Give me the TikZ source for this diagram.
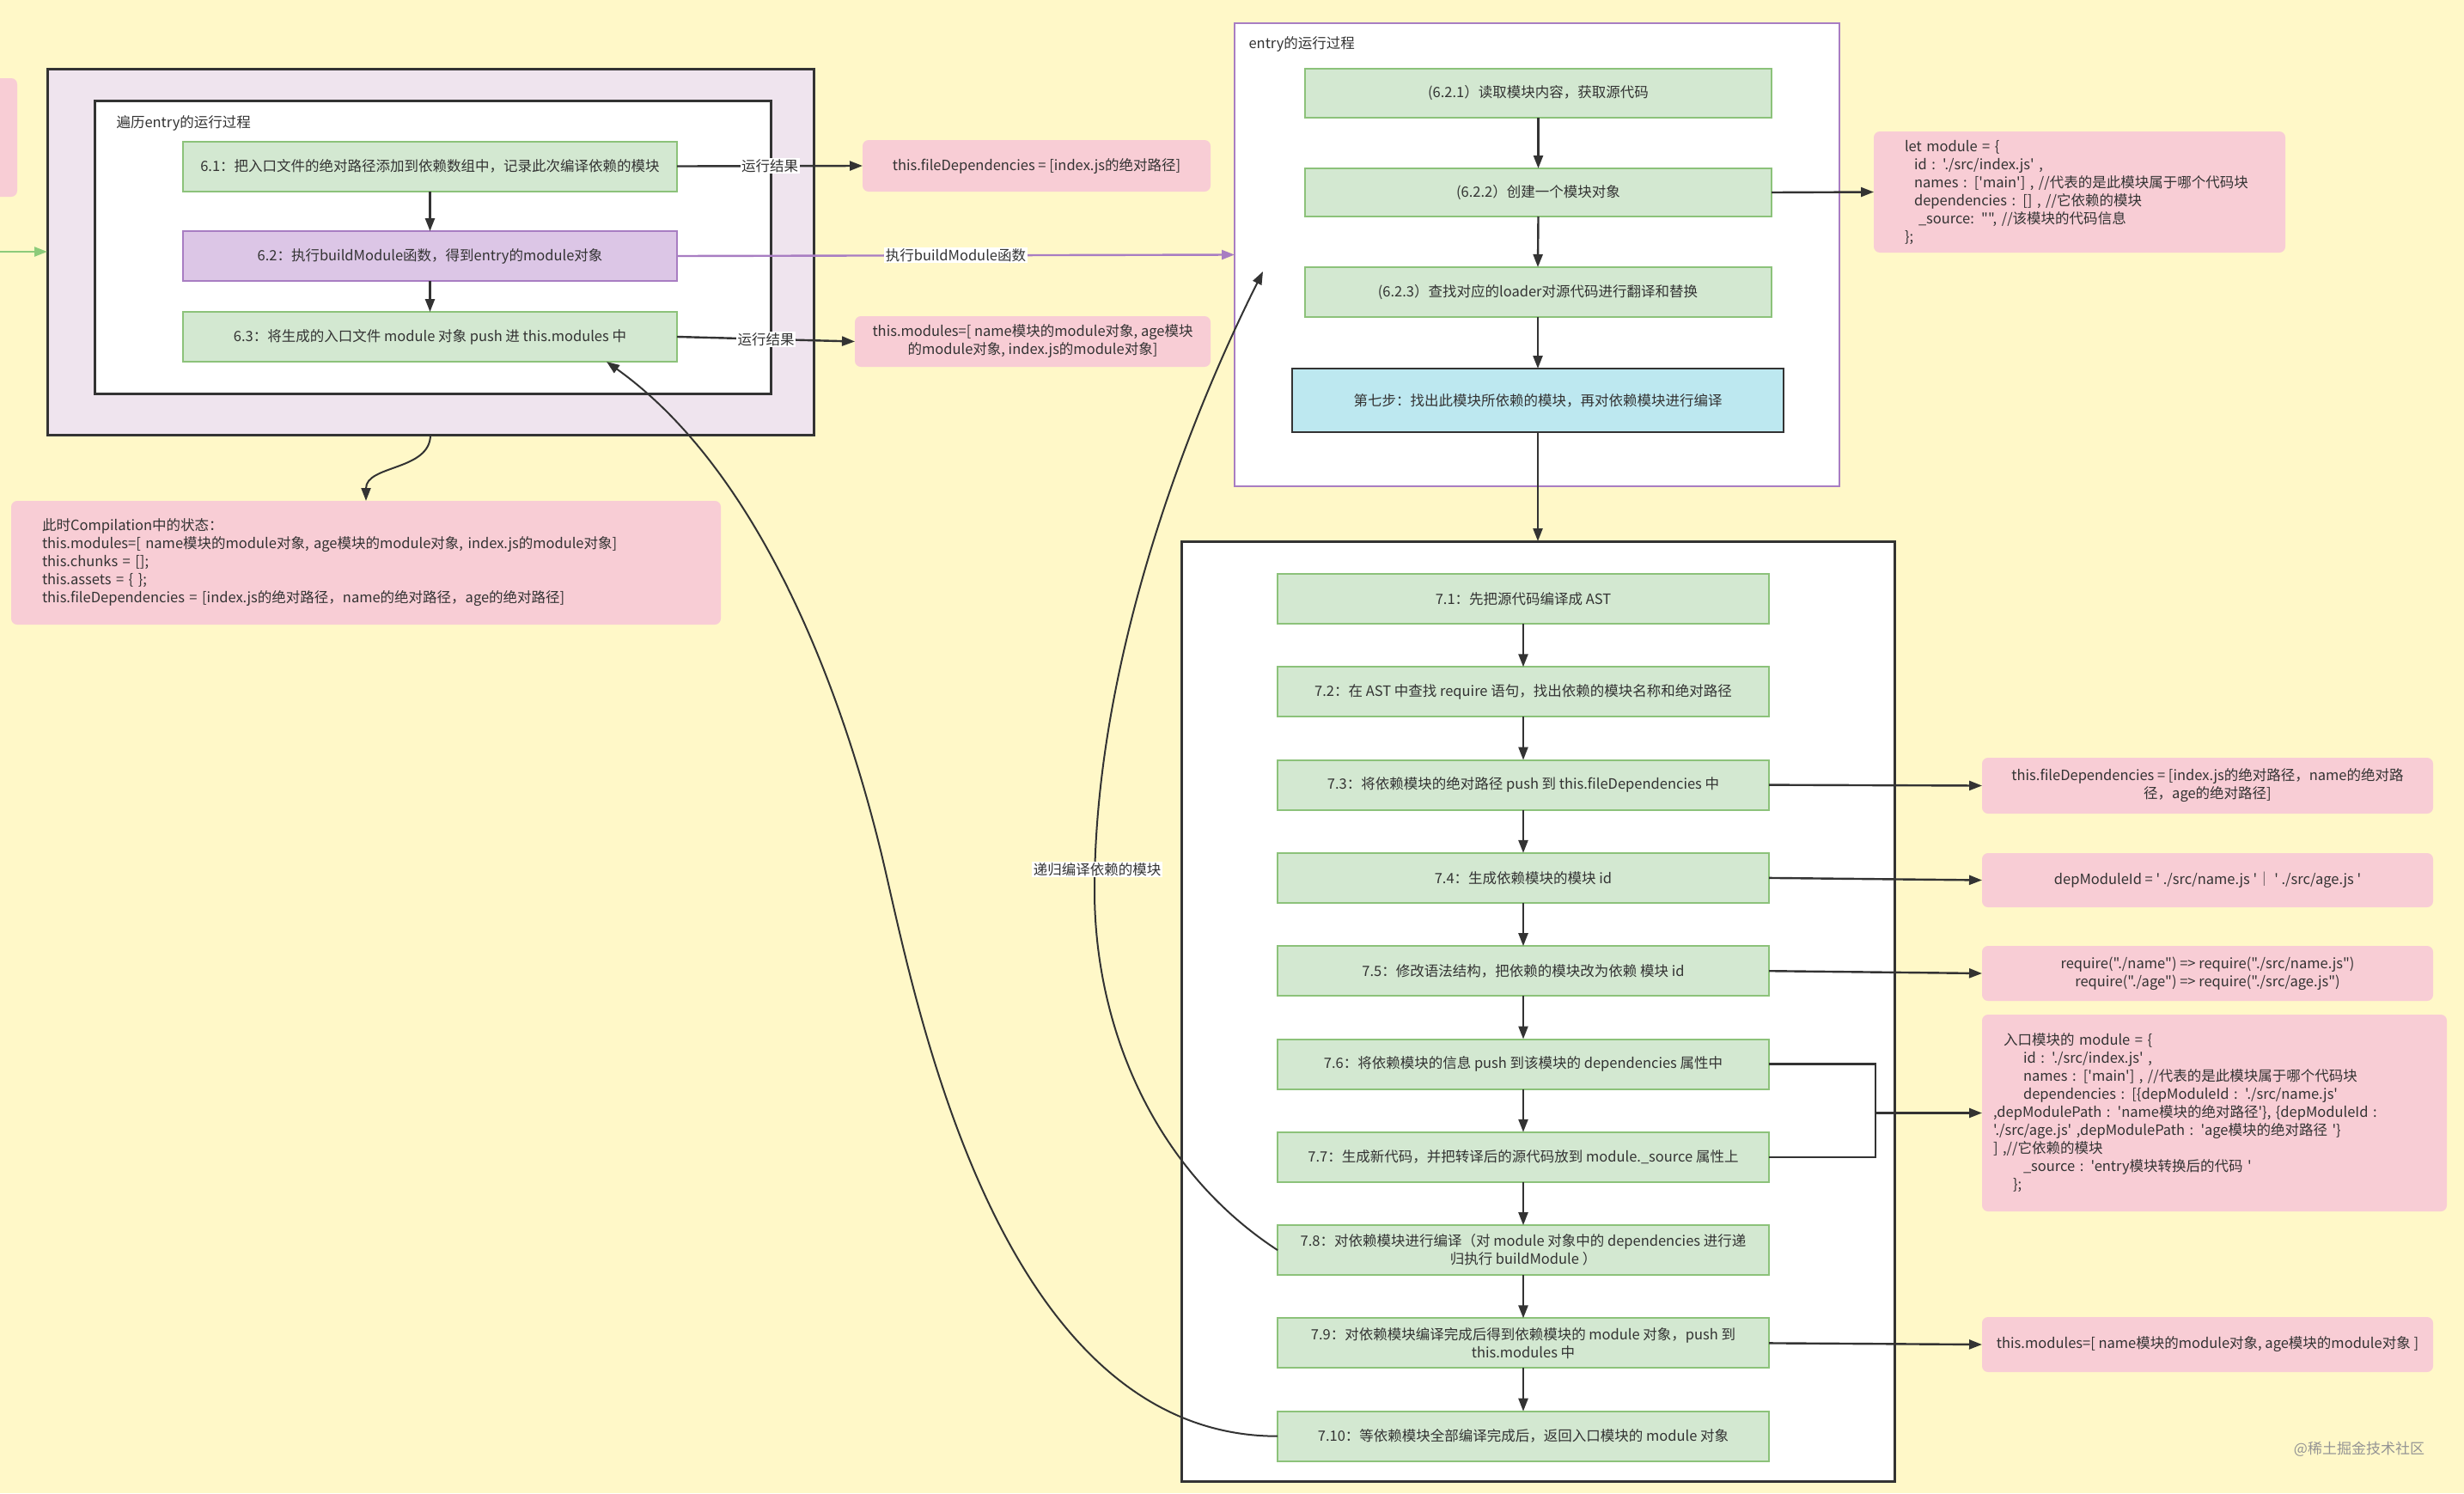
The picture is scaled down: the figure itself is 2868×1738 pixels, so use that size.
\documentclass[tikz,border=0pt]{standalone}
\usepackage{fontspec}
\setmainfont{Noto Sans CJK SC}[Ligatures=TeXOff]
\usetikzlibrary{arrows.meta,calc}
\definecolor{bg}{HTML}{FFF8C8}
\definecolor{gfill}{HTML}{D3E8D1}
\definecolor{gline}{HTML}{8CC27A}
\definecolor{pfill}{HTML}{DCC6E6}
\definecolor{pline}{HTML}{A87DC2}
\definecolor{pinkf}{HTML}{F8CDD5}
\definecolor{lav}{HTML}{EFE4EE}
\definecolor{cyanf}{HTML}{BDE8F0}
\definecolor{ink}{HTML}{333333}
\definecolor{garrow}{HTML}{8CCB7A}
\begin{document}
\begin{tikzpicture}[x=1pt,y=-1pt,
  txt/.style={font=\fontsize{16.5}{21}\selectfont, text=ink},
  gbox/.style={txt, draw=gline, fill=gfill, line width=2pt, inner sep=0pt, outer sep=0pt, align=center, minimum height=58pt},
  pbox/.style={txt, fill=pinkf, rounded corners=7pt, inner sep=0pt, outer sep=0pt, align=center},
  frame/.style={draw=ink, line width=3pt, inner sep=0pt, outer sep=0pt},
  arr/.style={draw=ink, line width=2.4pt, -{Triangle[length=15pt,width=11pt]}},
  carr/.style={draw=ink, line width=2pt, -{Triangle[length=15pt,width=11pt]}},
  plain/.style={draw=ink, line width=2.4pt},
  lbl/.style={txt, fill=white, inner sep=1.5pt}
]
\fill[bg] (0,0) rectangle (2868,1738);
\useasboundingbox (0,0) rectangle (2868,1738);

% partial pink box at left edge
\fill[pinkf, rounded corners=7pt] (-20,91) rectangle (20,229);

% ---- left group ----
\node[frame, fill=lav, minimum width=892pt, minimum height=426pt] (outer) at (501,293) {};
\node[frame, fill=white, minimum width=787pt, minimum height=341pt] (inner) at (503.5,287.5) {};
\node[txt, anchor=west] (t1) at (132,143) {遍历entry的运行过程};
\node[gbox, minimum width=575pt] (b61) at (500.5,193.5) {6.1：把入口文件的绝对路径添加到依赖数组中，记录此次编译依赖的模块};
\node[gbox, draw=pline, fill=pfill, minimum width=575pt] (b62) at (500.5,298) {6.2：执行buildModule函数，得到entry的module对象};
\node[gbox, minimum width=575pt] (b63) at (500.5,392) {6.3：将生成的入口文件 module 对象 push 进 this.modules 中};

\node[pbox, minimum width=405pt, minimum height=60pt] (p1) at (1206.5,193) {this.fileDependencies = [index.js的绝对路径]};
\node[pbox, minimum width=414pt, minimum height=59pt] (p2) at (1202,397.5) {this.modules=[ name模块的module对象, age模块\\的module对象, index.js的module对象]};

\node[pbox, minimum width=826pt, minimum height=144pt, text width=754pt, align=left] (state) at (426,655) {此时Compilation中的状态：\\
this.modules=[ name模块的module对象, age模块的module对象, index.js的module对象]\\
this.chunks = [];\\
this.assets = \{ \};\\
this.fileDependencies = [index.js的绝对路径，name的绝对路径，age的绝对路径]};

% ---- entry group ----
\node[draw=pline, line width=2.6pt, fill=white, inner sep=0pt, outer sep=0pt, minimum width=704pt, minimum height=539pt] (entry) at (1789,296.5) {};
\node[txt, anchor=west] (t2) at (1450,51) {entry的运行过程};
\node[gbox, minimum width=543pt, minimum height=57pt] (c621) at (1790.5,108.5) {(6.2.1）读取模块内容，获取源代码};
\node[gbox, minimum width=543pt, minimum height=56pt] (c622) at (1790.5,224) {(6.2.2）创建一个模块对象};
\node[gbox, minimum width=543pt, minimum height=58pt] (c623) at (1790,340) {(6.2.3）查找对应的loader对源代码进行翻译和替换};
\node[gbox, draw=ink, line width=2.6pt, fill=cyanf, minimum width=572pt, minimum height=74pt] (step7) at (1790,466) {第七步：找出此模块所依赖的模块，再对依赖模块进行编译};

\node[pbox, minimum width=479pt, minimum height=141pt, text width=407pt, align=left] (letmod) at (2420.5,223.5) {let module = \{\\
\hspace*{11pt}id : './src/index.js' ,\\
\hspace*{11pt}names : ['main'] , //代表的是此模块属于哪个代码块\\
\hspace*{11pt}dependencies : [] , //它依赖的模块\\
\hspace*{16pt}\_source: "", //该模块的代码信息\\
\};};

% ---- step 7 container ----
\node[frame, fill=white, minimum width=830pt, minimum height=1094pt] (cont) at (1790,1177) {};
\node[gbox, minimum width=572pt] (b71) at (1773,697) {7.1：先把源代码编译成 AST};
\node[gbox, minimum width=572pt] (b72) at (1773,805.3) {7.2：在 AST 中查找 require 语句，找出依赖的模块名称和绝对路径};
\node[gbox, minimum width=572pt] (b73) at (1773,913.6) {7.3：将依赖模块的绝对路径 push 到 this.fileDependencies 中};
\node[gbox, minimum width=572pt] (b74) at (1773,1021.9) {7.4：生成依赖模块的模块 id};
\node[gbox, minimum width=572pt] (b75) at (1773,1130.2) {7.5：修改语法结构，把依赖的模块改为依赖 模块 id};
\node[gbox, minimum width=572pt] (b76) at (1773,1238.5) {7.6：将依赖模块的信息 push 到该模块的 dependencies 属性中};
\node[gbox, minimum width=572pt] (b77) at (1773,1346.8) {7.7：生成新代码，并把转译后的源代码放到 module.\_source 属性上};
\node[gbox, minimum width=572pt] (b78) at (1773,1455.1) {7.8：对依赖模块进行编译（对 module 对象中的 dependencies 进行递\\归执行 buildModule ）};
\node[gbox, minimum width=572pt] (b79) at (1773,1563.4) {7.9：对依赖模块编译完成后得到依赖模块的 module 对象，push 到\\this.modules 中};
\node[gbox, minimum width=572pt] (b710) at (1773,1671.7) {7.10：等依赖模块全部编译完成后，返回入口模块的 module 对象};

\node[pbox, minimum width=525pt, minimum height=65pt] (p73) at (2569.5,914.5) {this.fileDependencies = [index.js的绝对路径，name的绝对路\\径，age的绝对路径]};
\node[pbox, minimum width=525pt, minimum height=63pt] (p74) at (2569.5,1024.5) {depModuleId = ' ./src/name.js '｜ ' ./src/age.js '};
\node[pbox, minimum width=525pt, minimum height=64pt] (p75) at (2569.5,1133) {require("./name") => require("./src/name.js")\\require("./age") => require("./src/age.js")};
\node[pbox, minimum width=541pt, minimum height=229pt, text width=515pt, align=left] (p76) at (2577.5,1295.5) {\hspace*{12pt}入口模块的 module = \{\\
\hspace*{35pt}id : './src/index.js' ,\\
\hspace*{35pt}names : ['main'] , //代表的是此模块属于哪个代码块\\
\hspace*{35pt}dependencies : [\{depModuleId : './src/name.js'\\
,depModulePath : 'name模块的绝对路径'\}, \{depModuleId :\\
'./src/age.js' ,depModulePath : 'age模块的绝对路径 '\}\\
\hspace*{0pt}] ,//它依赖的模块\\
\hspace*{35pt}\_source : 'entry模块转换后的代码 '\\
\hspace*{23pt}\};};
\node[pbox, minimum width=525pt, minimum height=64pt] (p79) at (2569.5,1565) {this.modules=[ name模块的module对象, age模块的module对象 ]};

\node[font=\fontsize{17}{20}\selectfont, text=black!42] (wm) at (2746,1687) {@稀土掘金技术社区};

% ---- connectors ----
\coordinate (gs) at (0,293);
\draw[line width=2.4pt, draw=garrow, -{Triangle[length=15pt,width=11pt]}] (gs) -- (outer.west);
\draw[arr] (b61.south) -- (b62.north);
\draw[arr] (b62.south) -- (b63.north);
\draw[arr] (b61.east) -- node[lbl]{运行结果} (p1.west);
\draw[arr] (b63.east) -- node[lbl]{运行结果} (p2.west);
\draw[line width=2.4pt, draw=pline, -{Triangle[length=15pt,width=11pt]}] (b62.east) -- node[lbl]{执行buildModule函数} (entry.west);
\draw[carr] (outer.south) .. controls +(0,42) and +(0,-42) .. (state.north);

\draw[arr] (c621.south) -- (c622.north);
\draw[arr] (c622.south) -- (c623.north);
\draw[arr] (c623.south) -- (step7.north);
\draw[arr] (step7.south) -- (step7.south |- cont.north);
\draw[arr] (c622.east) -- (letmod.west);

\draw[arr] (b71.south) -- (b72.north);
\draw[arr] (b72.south) -- (b73.north);
\draw[arr] (b73.south) -- (b74.north);
\draw[arr] (b74.south) -- (b75.north);
\draw[arr] (b75.south) -- (b76.north);
\draw[arr] (b76.south) -- (b77.north);
\draw[arr] (b77.south) -- (b78.north);
\draw[arr] (b78.south) -- (b79.north);
\draw[arr] (b79.south) -- (b710.north);

\draw[arr] (b73.east) -- (p73.west);
\draw[arr] (b74.east) -- (p74.west);
\draw[arr] (b75.east) -- (p75.west);
\coordinate (jx) at (2183,1295.5);
\draw[plain] (b76.east) -| (jx) |- (b77.east);
\draw[arr] (jx) -- (p76.west);
\draw[arr] (b79.east) -- (p79.west);

\coordinate (rtip) at (1470,316);
\draw[carr] (b78.west) .. controls (1337,1357) and (1274,1187) .. (1274,1037)
  .. controls (1274,787) and (1370,516) .. (rtip);
\node[lbl] (rec) at (1277,1012) {递归编译依赖的模块};
\draw[carr] (b710.west) .. controls (1150,1671.7) and (1060,1130) .. (1024,986)
  .. controls (974,784) and (878,544) .. ($(b63.south)+(205.5,0)$);
\end{tikzpicture}
\end{document}
